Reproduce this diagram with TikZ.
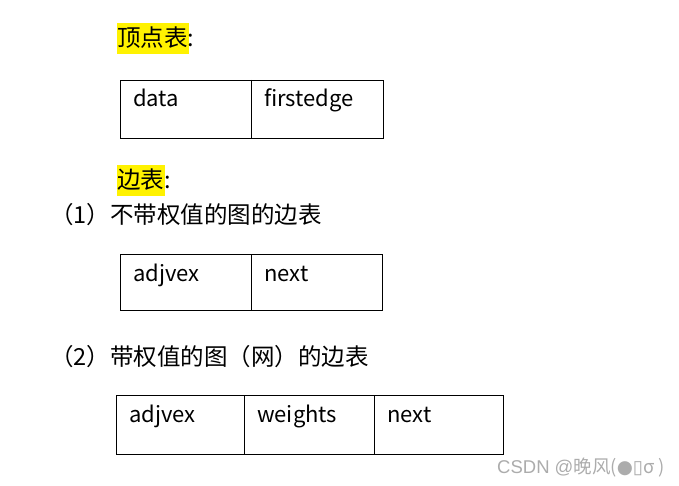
\documentclass[tikz,border=0pt]{standalone}
\usepackage{fontspec}
\setmainfont{Noto Sans CJK SC}
\newfontfamily\symfont{DejaVu Sans}
\newfontfamily\wmfont{Liberation Sans}
\tikzset{
  celltxt/.style={anchor=base west, inner sep=0pt, font=\fontsize{22}{26}\selectfont},
  heading/.style={anchor=base west, inner sep=0pt, font=\fontsize{23.5}{28}\selectfont},
  mark1/.style={anchor=base west, inner sep=0pt, text=gray!65, font=\fontsize{18.5}{22}\selectfont}
}
\begin{document}
\begin{tikzpicture}[x=1pt,y=-1pt]
\useasboundingbox (0,0) rectangle (679,486);
% heading 1
\fill[yellow] (117,23) rectangle (189,54);
\node[heading] (h1) at (117,47) {顶点表:};
% table 1
\draw[line width=0.9pt] (120,80) rectangle (383,138);
\draw[line width=0.9pt] (251,80) -- (251,138);
\node[celltxt] (t1a) at (133,107) {data};
\node[celltxt] (t1b) at (264,107) {firstedge};
% heading 2
\fill[yellow] (117,165) rectangle (165,196);
\node[heading] (h2) at (117,189) {边表:};
\node[heading] (h3) at (50,223) {（1）不带权值的图的边表};
% table 2
\draw[line width=0.9pt] (120,254) rectangle (382,310);
\draw[line width=0.9pt] (251,254) -- (251,310);
\node[celltxt] (t2a) at (133,281) {adjvex};
\node[celltxt] (t2b) at (264,281) {next};
% heading 4
\node[heading] (h4) at (50,365) {（2）带权值的图（网）的边表};
% table 3
\draw[line width=0.9pt] (116,395) rectangle (503,454);
\draw[line width=0.9pt] (244,395) -- (244,454);
\draw[line width=0.9pt] (374,395) -- (374,454);
\node[celltxt] (t3a) at (129,422) {adjvex};
\node[celltxt] (t3b) at (257,422) {weights};
\node[celltxt] (t3c) at (387,422) {next};
% watermark
\node[mark1] (wm) at (497,473) {{\wmfont CSDN @}晚风({\symfont ●▯}σ )};
\end{tikzpicture}
\end{document}
